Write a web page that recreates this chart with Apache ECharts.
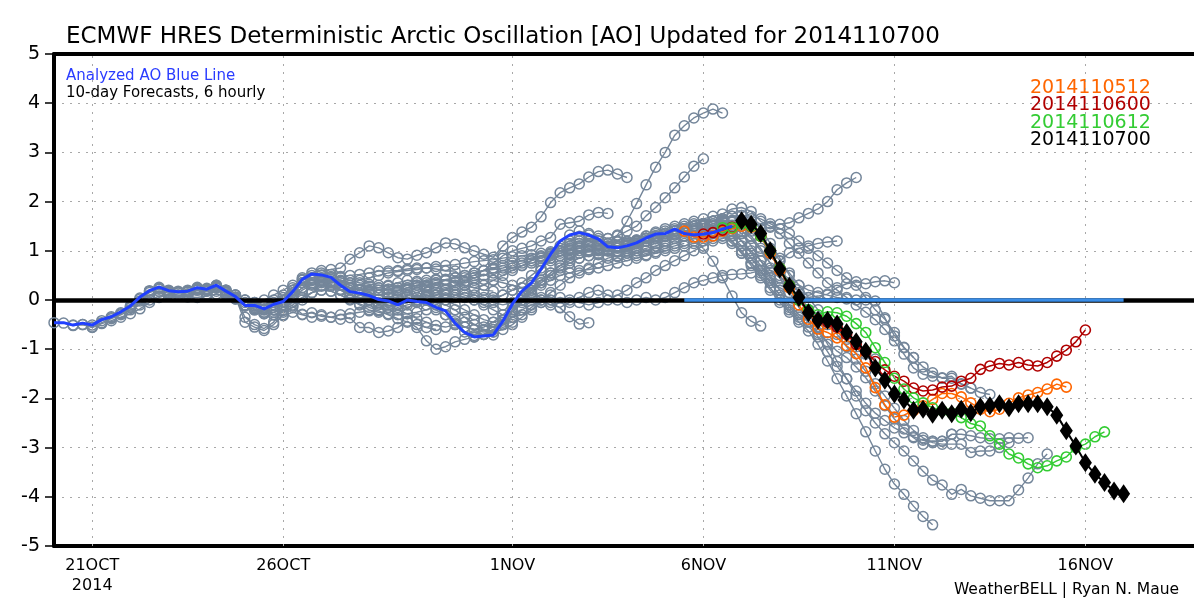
<!DOCTYPE html>
<html>
<head>
<meta charset="utf-8">
<script src="https://cdn.jsdelivr.net/npm/echarts@6/dist/echarts.min.js"></script>
<style>html,body{margin:0;padding:0;background:#fff}#chart{width:1194px;height:601px}</style>
</head>
<body>
<div id="chart"></div>
<script>
// ---------- DATA ----------
// x tick positions (days since 21 OCT 2014 00Z) and labels
const tickDays = [0, 5, 11, 16, 21, 26];
const tickLabels = ['21OCT\n2014', '26OCT', '1NOV', '6NOV', '11NOV', '16NOV'];
const yTicks = [-5, -4, -3, -2, -1, 0, 1, 2, 3, 4, 5];

// Analyzed AO (6-hourly from 2014102000)
const analysisStart = '2014102000';
const analyzedAO = [-0.46,-0.46,-0.51,-0.47,-0.51,-0.40,-0.34,-0.24,-0.12,0.06,
 0.19,0.26,0.19,0.17,0.18,0.25,0.22,0.30,0.18,0.07,
 -0.11,-0.11,-0.18,-0.09,-0.03,0.17,0.42,0.53,0.51,0.46,
 0.30,0.17,0.14,0.09,0.01,-0.02,-0.10,0.00,-0.03,-0.05,
 -0.15,-0.22,-0.47,-0.66,-0.75,-0.73,-0.71,-0.43,-0.08,0.18,
 0.35,0.63,0.93,1.20,1.32,1.37,1.32,1.24,1.08,1.06,
 1.10,1.16,1.26,1.34,1.35,1.44,1.35,1.32,1.34,1.37,
 1.44,1.50];

// Older 10-day forecasts (gray), 6-hourly values from each init time
const fc2014102000 = [-0.46,-0.47,-0.52,-0.50,-0.55,-0.46,-0.38,-0.30,-0.20,-0.10,0.00,0.08,0.12,0.10,0.06,0.05,0.08,0.12,0.10,0.02,-0.10,-0.20,-0.28,-0.25,-0.15,-0.05,0.05,0.15,0.20,0.18,0.10,0.02,-0.08,-0.15,-0.22,-0.30,-0.38,-0.45,-0.50,-0.56,-0.60];
const fc2014102012 = [-0.51,-0.50,-0.56,-0.48,-0.42,-0.35,-0.28,-0.18,-0.05,0.05,0.12,0.15,0.12,0.10,0.12,0.18,0.20,0.10,0.00,-0.12,-0.20,-0.30,-0.25,-0.15,0.00,0.15,0.28,0.35,0.38,0.30,0.20,0.15,0.10,0.12,0.18,0.25,0.30,0.28,0.20,0.10,0.05];
const fc2014102100 = [-0.51,-0.42,-0.36,-0.28,-0.16,-0.02,0.10,0.18,0.14,0.10,0.12,0.20,0.18,0.24,0.12,0.02,-0.12,-0.18,-0.28,-0.20,-0.10,0.08,0.25,0.32,0.30,0.28,0.20,0.12,0.05,0.00,-0.08,-0.15,-0.20,-0.28,-0.38,-0.45,-0.52,-0.55,-0.50,-0.45,-0.40];
const fc2014102112 = [-0.34,-0.26,-0.14,0.02,0.15,0.22,0.16,0.14,0.16,0.22,0.20,0.26,0.15,0.05,-0.10,-0.12,-0.20,-0.10,0.00,0.20,0.35,0.40,0.38,0.32,0.22,0.15,0.10,0.05,0.02,-0.02,0.02,0.08,0.15,0.25,0.35,0.40,0.38,0.30,0.25,0.20,0.18];
const fc2014102200 = [-0.12,0.04,0.18,0.24,0.18,0.16,0.18,0.22,0.20,0.28,0.15,0.05,-0.12,-0.15,-0.25,-0.30,-0.32,-0.25,-0.30,-0.35,-0.30,-0.35,-0.39,-0.36,-0.56,-0.56,-0.66,-0.63,-0.56,-0.43,-0.56,-0.83,-1.00,-0.95,-0.85,-0.80,-0.75,-0.70,-0.60,-0.50,-0.45];
const fc2014102212 = [0.19,0.26,0.20,0.18,0.20,0.26,0.24,0.30,0.20,0.10,-0.05,-0.05,-0.12,-0.05,0.05,0.20,0.35,0.42,0.40,0.38,0.30,0.25,0.22,0.20,0.25,0.30,0.35,0.40,0.38,0.30,0.25,0.20,0.15,0.10,0.05,0.00,0.05,0.10,0.20,0.25,0.30];
const fc2014102300 = [0.19,0.16,0.18,0.24,0.22,0.28,0.16,0.06,-0.45,-0.55,-0.62,-0.50,-0.30,0.15,0.35,0.45,0.50,0.45,0.35,0.25,0.20,0.15,0.10,0.05,0.05,0.10,0.05,0.00,-0.05,-0.10,-0.20,-0.35,-0.50,-0.60,-0.65,-0.60,-0.50,-0.35,-0.20,-0.05,0.10];
const fc2014102312 = [0.18,0.24,0.22,0.30,0.18,0.05,-0.35,-0.50,-0.58,-0.45,-0.20,-0.10,0.05,0.15,0.20,0.18,0.10,0.00,-0.10,-0.20,-0.25,-0.28,-0.30,-0.28,-0.25,-0.20,-0.10,0.00,0.10,0.15,0.10,0.05,-0.05,-0.10,-0.05,0.05,0.20,0.35,0.50,0.60,0.65];
const fc2014102400 = [0.22,0.25,0.15,0.05,-0.10,-0.20,-0.25,-0.20,-0.10,0.05,0.20,0.30,0.35,0.30,0.20,0.10,0.05,0.00,-0.05,-0.10,-0.15,-0.10,-0.05,0.00,0.10,0.20,0.30,0.35,0.40,0.42,0.40,0.35,0.30,0.25,0.15,0.05,-0.05,-0.16,-0.34,-0.49,-0.46];
const fc2014102412 = [0.20,0.10,0.00,-0.05,0.00,0.10,0.20,0.30,0.40,0.45,0.45,0.45,0.48,0.50,0.52,0.55,0.59,0.59,0.60,0.63,0.65,0.65,0.63,0.59,0.59,0.45,0.50,0.60,0.75,0.90,1.00,1.05,1.10,1.20,1.27,1.54,1.57,1.60,1.73,1.78,1.76];
const fc2014102500 = [-0.10,-0.15,-0.10,0.00,0.10,0.25,0.45,0.55,0.60,0.62,0.65,0.83,0.96,1.10,1.06,0.96,0.86,0.83,0.91,0.96,1.06,1.16,1.14,1.06,1.00,0.93,0.87,1.10,1.27,1.38,1.48,1.69,1.98,2.18,2.28,2.36,2.50,2.61,2.64,2.56,2.49];
const fc2014102512 = [-0.18,-0.15,-0.05,0.10,0.25,0.35,0.40,0.38,0.30,0.25,0.20,0.18,0.20,0.22,0.25,0.30,0.35,0.40,0.42,0.40,0.35,0.30,0.25,0.30,0.40,0.50,0.60,0.70,0.80,0.88,0.95,1.00,1.05,1.08,1.10,1.05,1.00,0.98,1.00,1.05,1.10];
const fc2014102600 = [-0.03,-0.12,-0.29,-0.26,-0.33,-0.35,-0.30,-0.28,-0.25,-0.22,-0.20,-0.15,-0.10,-0.05,0.00,0.05,0.10,0.15,0.10,0.05,0.00,-0.10,-0.20,-0.30,-0.35,-0.30,-0.15,0.00,0.15,0.30,0.45,0.55,0.65,0.75,0.85,0.90,0.95,1.00,1.05,1.10,1.15];
const fc2014102612 = [0.42,0.50,0.55,0.52,0.45,0.40,0.35,0.32,0.30,0.28,0.25,0.20,0.15,0.10,0.05,0.00,-0.10,-0.20,-0.30,-0.40,-0.45,-0.40,-0.25,-0.05,0.15,0.35,0.50,0.65,0.75,0.85,0.90,0.95,1.00,1.00,0.95,0.90,0.92,0.98,1.05,1.10,1.15];
const fc2014102700 = [0.51,0.48,0.40,0.35,0.30,0.28,0.25,0.22,0.20,0.22,0.25,0.30,0.35,0.40,0.45,0.50,0.55,0.60,0.65,0.70,0.75,0.80,0.85,0.90,0.95,1.00,1.05,1.10,1.15,1.20,1.25,1.30,1.40,1.50,1.71,1.88,2.08,2.28,2.50,2.72,2.87];
const fc2014102712 = [0.30,0.35,0.40,0.45,0.50,0.55,0.58,0.60,0.62,0.65,0.68,0.70,0.72,0.75,0.78,0.80,0.82,0.85,0.88,0.90,0.92,0.95,0.98,1.00,1.02,1.05,1.08,1.10,1.15,1.32,1.60,1.96,2.34,2.70,3.00,3.35,3.54,3.70,3.80,3.88,3.80];
const fc2014102800 = [0.14,0.12,0.10,0.15,0.20,0.25,0.30,0.35,0.40,0.42,0.45,0.50,0.55,0.60,0.62,0.65,0.70,0.75,0.80,0.85,0.90,0.95,1.00,1.05,1.10,1.12,1.15,1.18,1.20,1.22,1.25,1.30,1.35,1.40,1.45,1.50,1.55,1.60,1.62,1.58,1.50];
const fc2014102812 = [0.01,-0.02,-0.08,-0.05,0.00,0.08,0.15,0.22,0.30,0.38,0.45,0.50,0.55,0.60,0.65,0.70,0.75,0.80,0.85,0.90,0.92,0.95,0.98,1.00,1.02,1.05,1.10,1.15,1.20,1.25,1.30,1.32,1.30,1.20,1.05,0.79,0.45,0.08,-0.26,-0.43,-0.53];
const fc2014102900 = [-0.10,-0.05,0.00,0.05,0.10,0.12,0.10,0.05,0.00,-0.05,0.00,0.10,0.20,0.35,0.50,0.65,0.80,0.90,0.95,1.00,1.02,1.05,1.08,1.10,1.12,1.15,1.20,1.25,1.30,1.35,1.40,1.45,1.50,1.55,1.50,1.40,1.20,0.95,0.70,0.45,0.20];
const fc2014102912 = [-0.03,-0.10,-0.20,-0.30,-0.42,-0.55,-0.60,-0.62,-0.55,-0.40,-0.20,0.00,0.15,0.30,0.40,0.50,0.55,0.60,0.62,0.65,0.70,0.75,0.80,0.85,0.90,0.95,1.00,1.05,1.10,1.15,1.20,1.25,1.30,1.20,1.00,0.75,0.50,0.25,0.00,-0.20,-0.40];
const fc2014103000 = [-0.15,-0.30,-0.50,-0.65,-0.72,-0.70,-0.65,-0.45,-0.20,0.05,0.25,0.40,0.55,0.70,0.85,0.95,1.00,1.02,1.00,0.98,1.00,1.05,1.10,1.15,1.20,1.25,1.30,1.35,1.38,1.40,1.38,1.30,1.10,0.85,0.60,0.35,0.10,-0.15,-0.35,-0.55,-0.70];
const fc2014103012 = [-0.47,-0.55,-0.60,-0.55,-0.45,-0.30,-0.15,0.00,0.05,0.00,-0.10,-0.15,-0.05,0.05,0.15,0.20,0.10,0.00,-0.05,0.00,0.05,0.00,0.05,0.15,0.25,0.35,0.40,0.45,0.50,0.52,0.53,0.55,0.60,0.65,0.79,0.96,1.05,1.10,1.15,1.18,1.20];
const fc2014103100 = [-0.75,-0.70,-0.60,-0.50,-0.35,-0.20,-0.10,-0.05,0.00,0.05,0.00,-0.05,-0.10,-0.05,0.00,0.10,0.20,0.35,0.45,0.60,0.70,0.80,0.90,1.00,1.10,1.20,1.25,1.30,1.35,1.40,1.45,1.48,1.54,1.57,1.67,1.76,1.85,2.00,2.24,2.38,2.49];
const fc2014103112 = [-0.71,-0.50,-0.25,0.00,0.20,0.40,0.55,0.70,0.80,0.85,0.90,0.92,0.90,0.88,0.90,0.95,1.00,1.05,1.10,1.15,1.20,1.25,1.30,1.35,1.40,1.45,1.40,1.25,1.00,0.75,0.50,0.25,0.00,-0.20,-0.35,-0.50,-0.65,-0.80,-0.95,-1.10,-1.20];
const fc2014110100 = [-0.08,0.15,0.35,0.60,0.85,1.05,1.15,1.20,1.20,1.15,1.10,1.08,1.10,1.15,1.20,1.25,1.30,1.35,1.38,1.40,1.40,1.38,1.30,1.15,0.95,0.75,0.55,0.40,0.25,0.15,0.08,0.05,0.08,0.12,0.25,0.33,0.37,0.33,0.37,0.39,0.35];
const fc2014110112 = [0.35,0.60,0.85,1.00,1.10,1.15,1.12,1.10,1.08,1.10,1.15,1.20,1.25,1.30,1.35,1.40,1.45,1.50,1.52,1.50,1.45,1.35,1.20,1.00,0.80,0.60,0.45,0.35,0.30,0.20,0.15,0.10,0.05,0.02,0.00,0.00,-0.02,-0.36,-0.73,-0.97,-1.17];
const fc2014110200 = [0.93,1.10,1.20,1.25,1.20,1.15,1.10,1.10,1.15,1.20,1.30,1.35,1.40,1.45,1.50,1.55,1.55,1.50,1.40,1.20,0.95,0.70,0.45,0.20,-0.05,-0.25,-0.45,-0.63,-0.90,-1.24,-1.60,-1.95,-2.31,-2.68,-3.07,-3.44,-3.74,-3.95,-4.19,-4.40,-4.57];
const fc2014110212 = [1.32,1.40,1.35,1.25,1.15,1.10,1.12,1.18,1.25,1.30,1.35,1.40,1.45,1.50,1.55,1.60,1.58,1.50,1.35,1.10,0.80,0.50,0.20,-0.10,-0.30,-0.45,-0.66,-0.85,-1.04,-1.17,-1.36,-1.58,-1.85,-2.15,-2.42,-2.62,-2.80,-2.93,-2.87,-2.87,-2.73];
const fc2014110300 = [1.32,1.30,1.25,1.20,1.18,1.20,1.25,1.30,1.35,1.40,1.45,1.50,1.55,1.60,1.65,1.70,1.72,1.70,1.65,1.55,1.45,1.35,1.20,1.05,0.90,0.75,0.60,0.45,0.30,0.05,-0.20,-0.39,-0.66,-0.96,-1.17,-1.36,-1.48,-1.59,-1.59,-1.70,-1.79];
const fc2014110312 = [1.08,1.10,1.15,1.22,1.30,1.38,1.45,1.50,1.55,1.60,1.65,1.70,1.75,1.85,1.88,1.80,1.60,1.50,1.35,1.15,0.95,0.75,0.55,0.35,0.20,0.05,-0.10,-0.25,-0.40,-0.60,-0.83,-1.10,-1.38,-1.51,-1.55,-1.58,-1.55,-1.71,-1.79,-1.88,-1.92];
const fc2014110400 = [1.10,1.15,1.20,1.25,1.30,1.35,1.40,1.45,1.50,1.55,1.60,1.62,1.60,1.50,1.30,1.05,0.80,0.55,0.30,0.05,-0.20,-0.45,-0.70,-0.95,-1.20,-1.45,-1.70,-1.95,-2.20,-2.45,-2.65,-2.80,-2.90,-2.93,-2.93,-2.93,-3.10,-3.07,-3.07,-3.00,-2.90];
const fc2014110412 = [1.26,1.30,1.35,1.40,1.45,1.50,1.55,1.60,1.62,1.60,1.50,1.30,1.05,0.75,0.45,0.15,-0.15,-0.45,-0.75,-1.05,-1.35,-1.60,-1.85,-2.10,-2.30,-2.45,-2.60,-2.70,-2.78,-2.85,-2.87,-2.87,-2.73,-2.73,-2.76,-2.80,-2.82,-2.82,-2.80,-2.81,-2.80];
const fc2014110500 = [1.35,1.40,1.45,1.50,1.55,1.60,1.65,1.70,1.72,1.65,1.45,1.15,0.85,0.50,0.15,-0.20,-0.55,-0.90,-1.25,-1.60,-1.95,-2.25,-2.50,-2.72,-2.90,-3.07,-3.27,-3.48,-3.66,-3.76,-3.95,-3.85,-3.98,-4.03,-4.08,-4.08,-4.08,-3.86,-3.62,-3.33,-3.13];

// Latest four forecasts (coloured)
const fc2014110512 = [1.40,1.28,1.28,1.30,1.40,1.45,1.50,1.48,1.30,0.95,0.60,0.25,-0.10,-0.39,-0.59,-0.66,-0.77,-0.93,-1.09,-1.38,-1.78,-2.13,-2.38,-2.34,-2.25,-2.15,-2.02,-1.90,-1.90,-1.97,-2.09,-2.22,-2.27,-2.22,-2.10,-1.99,-1.93,-1.88,-1.81,-1.71,-1.77];
const fc2014110600 = [1.34,1.37,1.42,1.48,1.55,1.50,1.30,1.00,0.65,0.30,0.00,-0.25,-0.40,-0.45,-0.55,-0.70,-0.90,-1.05,-1.25,-1.42,-1.55,-1.65,-1.79,-1.85,-1.83,-1.77,-1.75,-1.65,-1.59,-1.41,-1.34,-1.29,-1.32,-1.27,-1.32,-1.34,-1.27,-1.14,-1.02,-0.85,-0.61];
const fc2014110612 = [1.47,1.47,1.55,1.50,1.30,1.00,0.65,0.30,0.00,-0.20,-0.30,-0.24,-0.26,-0.33,-0.48,-0.66,-0.97,-1.27,-1.59,-1.81,-1.99,-2.09,-2.19,-2.25,-2.30,-2.39,-2.51,-2.56,-2.76,-2.93,-3.13,-3.21,-3.33,-3.41,-3.37,-3.27,-3.19,-3.00,-2.93,-2.78,-2.68];
const fc2014110700 = [1.61,1.54,1.35,1.00,0.63,0.28,0.05,-0.26,-0.41,-0.41,-0.49,-0.66,-0.85,-1.04,-1.38,-1.63,-1.91,-2.03,-2.24,-2.22,-2.32,-2.24,-2.31,-2.22,-2.29,-2.17,-2.15,-2.11,-2.19,-2.11,-2.11,-2.11,-2.17,-2.34,-2.66,-2.97,-3.31,-3.54,-3.71,-3.88,-3.94];

const grayRuns = [
  ['2014102000', fc2014102000], ['2014102012', fc2014102012], ['2014102100', fc2014102100],
  ['2014102112', fc2014102112], ['2014102200', fc2014102200], ['2014102212', fc2014102212],
  ['2014102300', fc2014102300], ['2014102312', fc2014102312], ['2014102400', fc2014102400],
  ['2014102412', fc2014102412], ['2014102500', fc2014102500], ['2014102512', fc2014102512],
  ['2014102600', fc2014102600], ['2014102612', fc2014102612], ['2014102700', fc2014102700],
  ['2014102712', fc2014102712], ['2014102800', fc2014102800], ['2014102812', fc2014102812],
  ['2014102900', fc2014102900], ['2014102912', fc2014102912], ['2014103000', fc2014103000],
  ['2014103012', fc2014103012], ['2014103100', fc2014103100], ['2014103112', fc2014103112],
  ['2014110100', fc2014110100], ['2014110112', fc2014110112], ['2014110200', fc2014110200],
  ['2014110212', fc2014110212], ['2014110300', fc2014110300], ['2014110312', fc2014110312],
  ['2014110400', fc2014110400], ['2014110412', fc2014110412], ['2014110500', fc2014110500]
];
const colorRuns = [
  ['2014110512', fc2014110512, '#ff6600'],
  ['2014110600', fc2014110600, '#b00000'],
  ['2014110612', fc2014110612, '#33cc33']
];
const latestRun = ['2014110700', fc2014110700];
const legendItems = [['2014110512', '#ff6600'], ['2014110600', '#b00000'], ['2014110612', '#33cc33'], ['2014110700', '#000000']];

// ---------- HELPERS ----------
const DAY0 = Date.UTC(2014, 9, 21, 0);
const STEP = 0.25; // 6-hourly
function initDay(s) {
  return (Date.UTC(+s.slice(0, 4), +s.slice(4, 6) - 1, +s.slice(6, 8), +s.slice(8, 10)) - DAY0) / 86400000;
}
function toPoints(init, vals) {
  const t0 = initDay(init);
  return vals.map((v, i) => [t0 + i * STEP, v]);
}

const W = 1194, GRID_LEFT = 54;
const pxPerDay = 38.2;
const xMin = initDay(analysisStart);
const xMax = xMin + (W - GRID_LEFT) / pxPerDay;
const FONT = '"DejaVu Sans", Verdana, sans-serif';
const GRAY = '#74869a';
const AXIS_LINE = { show: true, onZero: false, lineStyle: { color: '#000', width: 4 } };

const series = [];
// vertical dotted grid lines at date ticks
series.push({
  type: 'line', data: [], silent: true, z: 1,
  markLine: { silent: true, symbol: 'none', label: { show: false }, animation: false,
    lineStyle: { color: '#a8a8a8', width: 1, type: [2, 6] },
    data: tickDays.map(d => ({ xAxis: d })) }
});
grayRuns.forEach(([init, vals]) => {
  series.push({
    type: 'line', name: init, data: toPoints(init, vals), z: 2,
    symbol: 'circle', symbolSize: 10, showSymbol: true,
    itemStyle: { color: 'rgba(255,255,255,0)', borderColor: GRAY, borderWidth: 1.5 },
    lineStyle: { color: GRAY, width: 1.4 }, silent: true
  });
});
// zero line + highlighted segment
const barStart = initDay(colorRuns[0][0]);
const barEnd = initDay(latestRun[0]) + (latestRun[1].length - 1) * STEP;
series.push({
  type: 'line', data: [], silent: true, z: 3,
  markLine: { silent: true, symbol: 'none', label: { show: false }, animation: false,
    data: [
      { yAxis: 0, lineStyle: { color: '#000', width: 4.5, type: 'solid' } },
      [{ coord: [barStart, 0], lineStyle: { color: '#3a8de6', width: 3.5, type: 'solid' } }, { coord: [barEnd, 0] }]
    ] }
});
colorRuns.forEach(([init, vals, col]) => {
  series.push({
    type: 'line', name: init, data: toPoints(init, vals), z: 4,
    symbol: 'circle', symbolSize: 10,
    itemStyle: { color: 'rgba(255,255,255,0)', borderColor: col, borderWidth: 1.6 },
    lineStyle: { color: col, width: 1.5 }, silent: true
  });
});
series.push({
  type: 'line', name: 'Analyzed', data: toPoints(analysisStart, analyzedAO), z: 5,
  symbol: 'none', lineStyle: { color: '#2040ff', width: 3 }, silent: true
});
series.push({
  type: 'line', name: latestRun[0], data: toPoints(latestRun[0], latestRun[1]), z: 6,
  symbol: 'diamond', symbolSize: [13, 19],
  itemStyle: { color: '#000' }, lineStyle: { color: '#000', width: 2 }, silent: true
});

const graphics = [
  { type: 'text', x: 66, y: 37, style: { text: 'ECMWF HRES Deterministic Arctic Oscillation [AO] Updated for 2014110700', font: '23px ' + FONT, fill: '#000', align: 'left', verticalAlign: 'middle' } },
  { type: 'text', x: 66, y: 76, style: { text: 'Analyzed AO Blue Line', font: '15px ' + FONT, fill: '#2a3cff', align: 'left', verticalAlign: 'middle' } },
  { type: 'text', x: 66, y: 93, style: { text: '10-day Forecasts, 6 hourly', font: '15px ' + FONT, fill: '#000', align: 'left', verticalAlign: 'middle' } },
  { type: 'text', x: 1179, y: 590, style: { text: 'WeatherBELL | Ryan N. Maue', font: '15.5px ' + FONT, fill: '#000', align: 'right', verticalAlign: 'middle' } }
];
legendItems.forEach(([txt, col], i) => {
  graphics.push({ type: 'text', x: 1030, y: 88 + i * 17.3, style: { text: txt, font: '19px ' + FONT, fill: col, align: 'left', verticalAlign: 'middle' } });
});

const chart = echarts.init(document.getElementById('chart'), null, { renderer: 'canvas' });
chart.setOption({
  animation: false,
  backgroundColor: '#fff',
  grid: { left: GRID_LEFT, top: 54, right: 0, height: 492, show: false },
  xAxis: [{
    type: 'value', min: xMin, max: xMax, position: 'bottom',
    axisLine: AXIS_LINE,
    axisTick: { show: false, customValues: tickDays },
    splitLine: { show: false },
    axisLabel: {
      customValues: tickDays, margin: 10, color: '#000', fontFamily: FONT, fontSize: 16, lineHeight: 20,
      formatter: v => { const i = tickDays.indexOf(Math.round(v)); return i >= 0 ? tickLabels[i] : ''; }
    }
  }, {
    type: 'value', min: xMin, max: xMax, position: 'top',
    axisLine: AXIS_LINE, axisTick: { show: false }, axisLabel: { show: false }, splitLine: { show: false }
  }],
  yAxis: {
    type: 'value', min: yTicks[0], max: yTicks[yTicks.length - 1], interval: 1,
    axisLine: AXIS_LINE,
    axisTick: { show: true, inside: false, length: 9, lineStyle: { color: '#000', width: 1.5 } },
    axisLabel: { margin: 14, color: '#000', fontFamily: FONT, fontSize: 19 },
    splitLine: { show: true, lineStyle: { color: '#a8a8a8', width: 1, type: [2, 6] } }
  },
  graphic: graphics,
  series: series
});
</script>
</body>
</html>
